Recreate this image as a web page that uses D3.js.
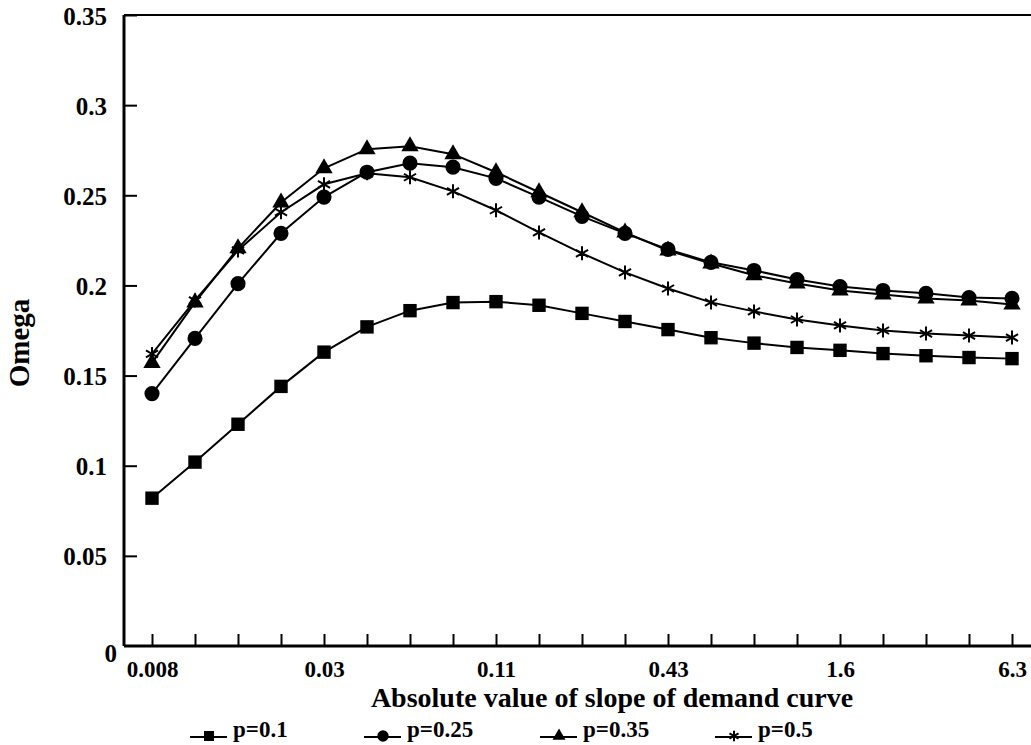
<!DOCTYPE html>
<meta charset="utf-8">
<style>
    body { margin: 0; background: #fff; }
    svg { display: block; }
    text { font-family: "Liberation Serif", "Times New Roman", serif; font-weight: bold; fill: #000; }
    .axis path { stroke: #000; stroke-width: 3px; }
    .axis line { stroke: #000; stroke-width: 2px; }
    .series { fill: none; stroke: #000; stroke-width: 2px; }
</style>
<body>
<svg id="chart" width="1031" height="745"></svg>
</body>
<script src="https://d3js.org/d3.v7.min.js"></script>
<script>
    // slope categories (log steps), only every 4th is labelled
    var slopeIdx = d3.range(21);
    var labelIdx = [0, 4, 8, 12, 16, 20];
    var labelText = ["0.008", "0.03", "0.11", "0.43", "1.6", "6.3"];
    var yTicks = [0, 0.05, 0.1, 0.15, 0.2, 0.25, 0.3, 0.35];

    // omega for each p
    var p01 = [0.082, 0.102, 0.123, 0.144, 0.163, 0.177, 0.186, 0.1905, 0.191, 0.189, 0.1845, 0.18, 0.1755, 0.171, 0.168, 0.1656, 0.164, 0.1622, 0.161, 0.16, 0.1594];
    var p025 = [0.14, 0.1706, 0.201, 0.2289, 0.249, 0.2628, 0.2678, 0.2656, 0.2594, 0.249, 0.2383, 0.2289, 0.22, 0.2128, 0.2083, 0.2033, 0.1994, 0.1972, 0.1956, 0.1933, 0.1928];
    var p035 = [0.157, 0.1906, 0.2206, 0.246, 0.265, 0.2756, 0.2772, 0.2728, 0.2628, 0.2517, 0.2406, 0.2294, 0.2194, 0.2122, 0.2056, 0.2011, 0.1972, 0.195, 0.1928, 0.1917, 0.1894];
    var p05 = [0.162, 0.1917, 0.2194, 0.2406, 0.2561, 0.2622, 0.26, 0.2522, 0.2417, 0.2294, 0.2178, 0.2072, 0.1983, 0.1906, 0.1856, 0.1811, 0.1778, 0.175, 0.1733, 0.1722, 0.1711];
    var seriesNames = ["p=0.1", "p=0.25", "p=0.35", "p=0.5"];
    var markers = ["square", "circle", "triangle", "star"];

    var svg = d3.select("#chart");
    var pLeft = 124, pTop = 15, pBottom = 646, pRight = 1031;

    var x = d3.scaleLinear().domain([0, 20]).range([152, 1012]);
    var y = d3.scaleLinear().domain([0, 0.35]).range([pBottom, pTop]);

    // frame: top line only, plus the two axes
    svg.append("line").attr("x1", pLeft).attr("x2", pRight).attr("y1", pTop).attr("y2", pTop)
        .attr("stroke", "#000").attr("stroke-width", 2);

    var yAxis = svg.append("g").attr("class", "axis").attr("transform", "translate(" + pLeft + ",0)")
        .call(d3.axisLeft(y).tickValues(yTicks).tickSize(-13).tickSizeOuter(0).tickPadding(17)
            .tickFormat(function (d) { return d === 0 ? "0" : String(+d.toFixed(2)); }));
    yAxis.select(".domain").attr("d", "M0," + pTop + "V" + pBottom);
    yAxis.selectAll("text").style("font-size", "25px").attr("dy", "0.36em");
    yAxis.selectAll(".tick").filter(function (d) { return d === 0; }).select("line").remove();
    yAxis.selectAll(".tick").filter(function (d) { return d === 0; }).select("text")
        .attr("x", -7).attr("dy", "0.6em");

    var xAxis = svg.append("g").attr("class", "axis").attr("transform", "translate(0," + pBottom + ")")
        .call(d3.axisBottom(x).tickValues(slopeIdx).tickSize(-12).tickSizeOuter(0).tickPadding(15)
            .tickFormat(function (d) { var k = labelIdx.indexOf(d); return k < 0 ? "" : labelText[k]; }));
    xAxis.select(".domain").attr("d", "M" + pLeft + ",0H" + pRight);
    xAxis.selectAll("text").style("font-size", "23px").attr("dy", "0.71em");

    // axis titles
    svg.append("text").attr("x", 612).attr("y", 707).attr("text-anchor", "middle")
        .style("font-size", "28px").text("Absolute value of slope of demand curve");
    svg.append("text").attr("transform", "translate(29,343) rotate(-90)").attr("text-anchor", "middle")
        .style("font-size", "29px").text("Omega");

    function drawMarker(g, type, cx, cy, s) {
        if (type === "star") {
            var r = 7 * s, a = r * Math.cos(Math.PI / 6), b = r * 0.5;
            g.append("path").attr("d", "M" + cx + "," + (cy - r) + "V" + (cy + r) +
                "M" + (cx - a) + "," + (cy - b) + "L" + (cx + a) + "," + (cy + b) +
                "M" + (cx - a) + "," + (cy + b) + "L" + (cx + a) + "," + (cy - b))
                .attr("stroke", "#000").attr("stroke-width", 2).attr("fill", "none");
            return;
        }
        var sym = { square: d3.symbolSquare, circle: d3.symbolCircle, triangle: d3.symbolTriangle }[type];
        var size = { square: 180, circle: 180, triangle: 130 }[type] * s * s;
        g.append("path").attr("d", d3.symbol().type(sym).size(size)())
            .attr("transform", "translate(" + cx + "," + cy + ")").attr("fill", "#000");
    }

    var allSeries = [p01, p025, p035, p05];
    var line = d3.line().x(function (d, i) { return x(slopeIdx[i]); }).y(function (d) { return y(d); });

    allSeries.forEach(function (vals, k) {
        svg.append("path").datum(vals).attr("class", "series").attr("d", line);
        var g = svg.append("g");
        vals.forEach(function (v, i) { drawMarker(g, markers[k], x(slopeIdx[i]), y(v), 1); });
    });

    // legend
    var legX = [190, 364, 540, 715];
    var legY = 737;
    seriesNames.forEach(function (name, k) {
        var g = svg.append("g");
        g.append("line").attr("x1", legX[k]).attr("x2", legX[k] + 37).attr("y1", legY).attr("y2", legY)
            .attr("stroke", "#000").attr("stroke-width", 2);
        drawMarker(g, markers[k], legX[k] + 19, legY - 1, 0.75);
        g.append("text").attr("x", legX[k] + 43).attr("y", legY).style("font-size", "23px").text(name);
    });
</script>
